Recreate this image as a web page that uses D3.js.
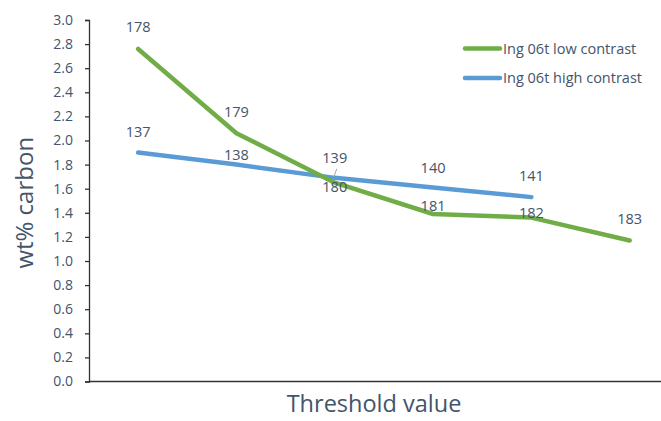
<!DOCTYPE html>
<html>
<head>
<meta charset="utf-8">
<script src="https://cdn.jsdelivr.net/npm/d3@7"></script>
<style>
  html, body { margin: 0; padding: 0; background: #fff; }
  svg { display: block; font-family: "Open Sans", Lato, sans-serif; }
</style>
</head>
<body>
<svg id="chart" width="661" height="421"></svg>
<script>
// Data series (wt% carbon per threshold step)
const categories = [1, 2, 3, 4, 5, 6];
const lowContrast = [2.76, 2.06, 1.65, 1.39, 1.36, 1.17];
const lowLabels = ["178", "179", "180", "181", "182", "183"];
const highContrast = [1.90, 1.80, 1.69, 1.61, 1.53];
const highLabels = ["137", "138", "139", "140", "141"];
const yTicks = [0, 0.2, 0.4, 0.6, 0.8, 1.0, 1.2, 1.4, 1.6, 1.8, 2.0, 2.2, 2.4, 2.6, 2.8, 3.0];
const seriesNames = ["Ing 06t low contrast", "Ing 06t high contrast"];

// Label placement offsets (pixels, relative to each point)
const lowLabelDy = [-22, -21, 4, -8, -5, -22];
const highLabelDy = [-21, -10, -20, -20, -21];

const textColor = "#44546A";
const green = "#70AD47";
const blue = "#5B9BD5";

const svg = d3.select("#chart");
const plotLeft = 89, plotTop = 20, plotBottom = 381.5;
const band = 98.3;

const x = d3.scaleBand().domain(categories).range([plotLeft, plotLeft + band * categories.length]);
const cx = d => x(d) + x.bandwidth() / 2;
const y = d3.scaleLinear().domain([0, 3]).range([plotBottom, plotTop]);

// Y axis
const yAxis = svg.append("g").attr("transform", `translate(${plotLeft},0)`)
  .call(d3.axisLeft(y).tickValues(yTicks).tickFormat(d3.format(".1f")).tickSize(4).tickPadding(12));
yAxis.select(".domain").attr("stroke", "#333").attr("stroke-width", 1.3);
yAxis.selectAll(".tick line").attr("stroke", "#333").attr("stroke-width", 1.3);
yAxis.selectAll(".tick text").attr("fill", textColor).attr("font-size", 14)
  .attr("font-family", "'Open Sans', sans-serif");

// X axis baseline
svg.append("line").attr("x1", plotLeft).attr("x2", 661).attr("y1", plotBottom).attr("y2", plotBottom)
  .attr("stroke", "#333").attr("stroke-width", 1.5);

// Lines
const line = d3.line().x((d, i) => cx(categories[i])).y(d => y(d));
svg.append("path").datum(highContrast).attr("d", line).attr("fill", "none")
  .attr("stroke", blue).attr("stroke-width", 4.5).attr("stroke-linejoin", "round").attr("stroke-linecap", "round");
svg.append("path").datum(lowContrast).attr("d", line).attr("fill", "none")
  .attr("stroke", green).attr("stroke-width", 4.5).attr("stroke-linejoin", "round").attr("stroke-linecap", "round");

// Leader line for the label of the third high-contrast point
svg.append("line")
  .attr("x1", cx(categories[2]) + 2).attr("y1", y(highContrast[2]) - 9)
  .attr("x2", cx(categories[2]) - 1).attr("y2", y(highContrast[2]) - 1)
  .attr("stroke", "#a6a6a6").attr("stroke-width", 1);

// Data labels
function labels(values, texts, dys) {
  svg.append("g").selectAll("text").data(values).join("text")
    .attr("x", (d, i) => cx(categories[i]))
    .attr("y", (d, i) => y(d) + dys[i])
    .attr("dy", "0.35em")
    .attr("text-anchor", "middle")
    .attr("fill", textColor).attr("font-size", 14.5)
    .text((d, i) => texts[i]);
}
labels(lowContrast, lowLabels, lowLabelDy);
labels(highContrast, highLabels, highLabelDy);

// Legend
const legend = svg.append("g");
[green, blue].forEach((c, i) => {
  const ly = 48.5 + i * 29.5;
  legend.append("line").attr("x1", 465).attr("x2", 500).attr("y1", ly).attr("y2", ly)
    .attr("stroke", c).attr("stroke-width", 4.5).attr("stroke-linecap", "round");
  legend.append("text").attr("x", 503).attr("y", ly).attr("dy", "0.35em")
    .attr("fill", textColor).attr("font-size", 14.5).text(seriesNames[i]);
});

// Axis titles
svg.append("text").attr("x", 374).attr("y", 404).attr("dy", "0.35em").attr("text-anchor", "middle")
  .attr("fill", textColor).attr("font-size", 23.5).text("Threshold value");
svg.append("text").attr("transform", `translate(25,${(plotTop + plotBottom) / 2 + 2}) rotate(-90)`)
  .attr("dy", "0.35em").attr("text-anchor", "middle")
  .attr("fill", textColor).attr("font-size", 24).text("wt% carbon");
</script>
</body>
</html>
